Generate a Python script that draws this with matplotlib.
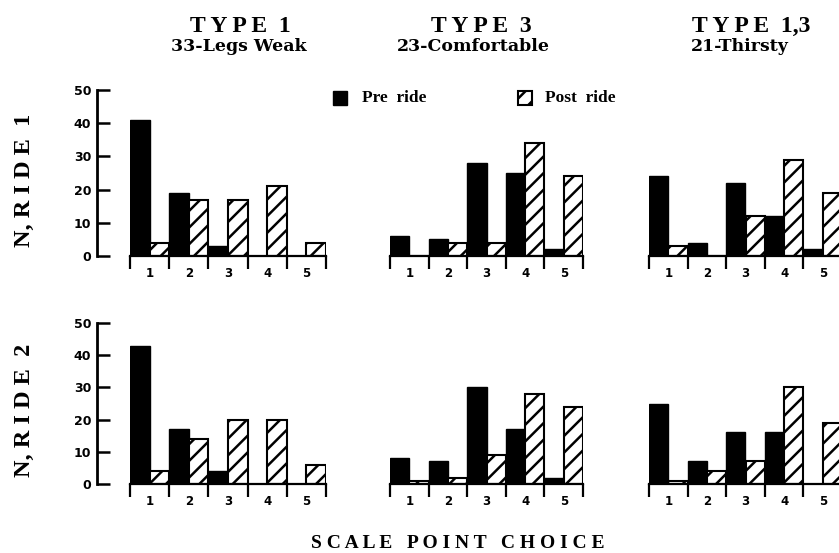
import matplotlib
matplotlib.use("Agg")
import matplotlib.pyplot as plt
from matplotlib.patches import Rectangle

# scale points on the x axis
scale_points = ["1", "2", "3", "4", "5"]

# panel headings
type_titles = ["T Y P E  1", "T Y P E  3", "T Y P E  1,3"]
item_titles = ["33-Legs Weak", "23-Comfortable", "21-Thirsty"]
row_labels = ["N, R I D E  1", "N, R I D E  2"]

# ride 1: pre / post counts per type
pre_r1_t1 = [41, 19, 3, 0, 0]
post_r1_t1 = [4, 17, 17, 21, 4]
pre_r1_t3 = [6, 5, 28, 25, 2]
post_r1_t3 = [0, 4, 4, 34, 24]
pre_r1_t13 = [24, 4, 22, 12, 2]
post_r1_t13 = [3, 0, 12, 29, 19]

# ride 2
pre_r2_t1 = [43, 17, 4, 0, 0]
post_r2_t1 = [4, 14, 20, 20, 6]
pre_r2_t3 = [8, 7, 30, 17, 2]
post_r2_t3 = [1, 2, 9, 28, 24]
pre_r2_t13 = [25, 7, 16, 16, 0]
post_r2_t13 = [1, 4, 7, 30, 19]

pre = [[pre_r1_t1, pre_r1_t3, pre_r1_t13], [pre_r2_t1, pre_r2_t3, pre_r2_t13]]
post = [[post_r1_t1, post_r1_t3, post_r1_t13], [post_r2_t1, post_r2_t3, post_r2_t13]]

plt.rcParams["hatch.linewidth"] = 1.8
serif = ["Liberation Serif", "DejaVu Serif"]

W, H = 839, 553
fig = plt.figure(figsize=(W / 100, H / 100), dpi=100)

col_left = [130, 390, 649]
col_width = [196, 193, 193]
row_box = [(256, 166), (484, 161)]  # (baseline px, height px)

for r in range(2):
    base, h = row_box[r]
    for c in range(3):
        ax = fig.add_axes([col_left[c] / W, 1 - base / H, col_width[c] / W, h / H])
        x = list(range(5))
        ax.bar(x, pre[r][c], width=0.5, align="edge", color="black", edgecolor="black", linewidth=1)
        ax.bar([i + 0.5 for i in x], post[r][c], width=0.5, align="edge", color="white",
               edgecolor="black", hatch="//", linewidth=1.5)
        ax.set_xlim(0, 5)
        ax.set_ylim(0, 50)
        for s in ["top", "right"]:
            ax.spines[s].set_visible(False)
        ax.spines["bottom"].set_linewidth(1.6)
        ax.set_xticks(range(6))
        ax.set_xticklabels([])
        ax.tick_params(axis="x", which="major", direction="out", length=9, width=1.6)
        ax.set_xticks([i + 0.5 for i in x], minor=True)
        ax.set_xticklabels(scale_points, minor=True, fontsize=8.5, fontweight="bold")
        ax.tick_params(axis="x", which="minor", length=0, pad=8)
        if c == 0:
            ax.spines["left"].set_position(("outward", 24))
            ax.spines["left"].set_linewidth(2)
            ax.set_yticks(range(0, 51, 10))
            ax.tick_params(axis="y", direction="in", length=9, width=1.8, labelsize=9, pad=4)
            for t in ax.get_yticklabels():
                t.set_fontweight("bold")
        else:
            ax.spines["left"].set_visible(False)
            ax.set_yticks([])

# column headings
type_x = [240, 481, 751]
item_x = [239, 473, 740]
for c in range(3):
    fig.text(type_x[c] / W, 1 - 26 / H, type_titles[c], ha="center", va="center",
             fontsize=17, fontweight="bold", family=serif)
    fig.text(item_x[c] / W, 1 - 47 / H, item_titles[c], ha="center", va="center",
             fontsize=12.5, fontweight="bold", family=["DejaVu Serif"])

# row labels
row_y = [180, 410]
for r in range(2):
    fig.text(24 / W, 1 - row_y[r] / H, row_labels[r], rotation=90, ha="center", va="center",
             fontsize=17.5, fontweight="bold", family=serif)

fig.text(458 / W, 1 - 543 / H, "S C A L E   P O I N T   C H O I C E", ha="center", va="center",
         fontsize=14, fontweight="bold", family=serif)

# legend
fig.add_artist(Rectangle((333 / W, 1 - 105 / H), 14 / W, 14 / H, transform=fig.transFigure,
                         facecolor="black", edgecolor="black"))
fig.text(362 / W, 1 - 98 / H, "Pre  ride", ha="left", va="center", fontsize=12.5,
         fontweight="bold", family=serif)
fig.add_artist(Rectangle((518 / W, 1 - 105 / H), 14 / W, 14 / H, transform=fig.transFigure,
                         facecolor="white", edgecolor="black", hatch="//", linewidth=1.5))
fig.text(545 / W, 1 - 98 / H, "Post  ride", ha="left", va="center", fontsize=12.5,
         fontweight="bold", family=serif)

fig.savefig("out.png", dpi=100)
